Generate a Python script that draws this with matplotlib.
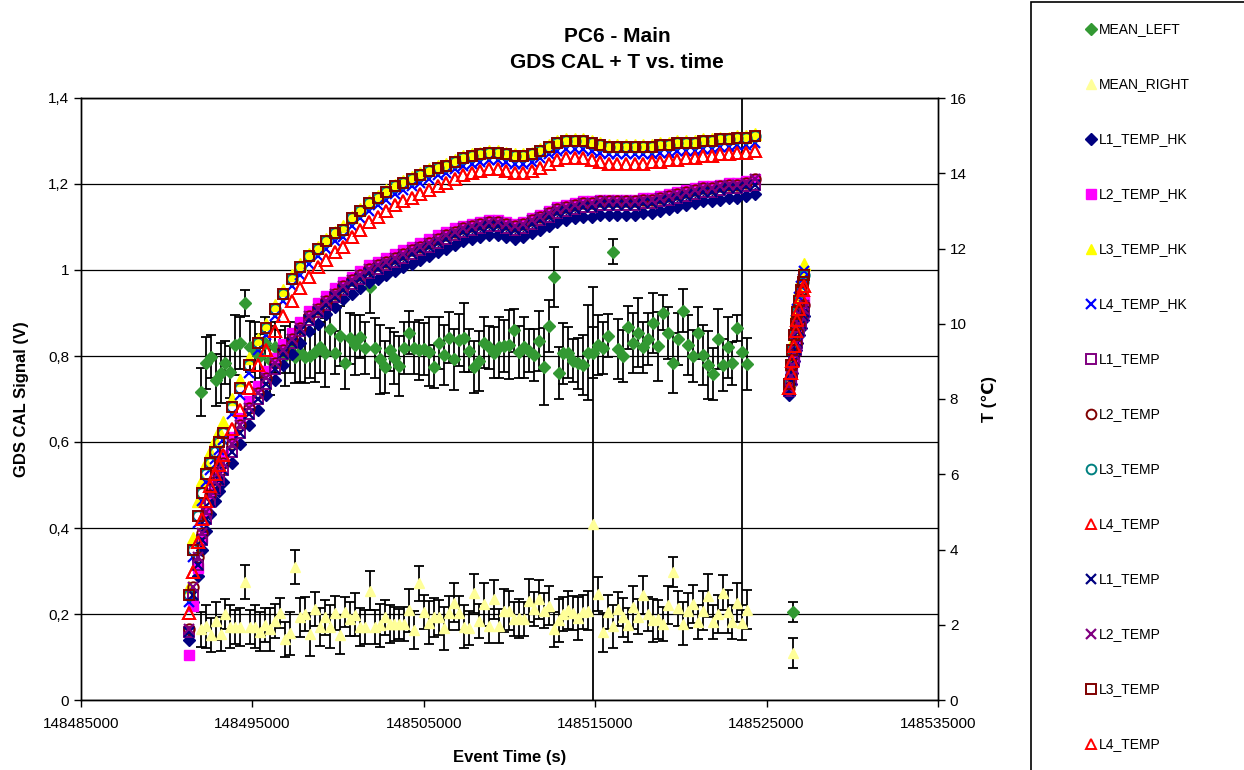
import matplotlib
matplotlib.use('Agg')
import matplotlib.pyplot as plt
from matplotlib.lines import Line2D
from matplotlib.patches import Rectangle
from matplotlib.ticker import FuncFormatter, MultipleLocator

plt.rcParams['font.family'] = ['Liberation Sans', 'DejaVu Sans']

# event times (s) of the GDS CAL means, plus the single point after the restart
t_mean = list(range(148491980, 148523881, 290)) + [148526540]

mean_left = [0.716, 0.784, 0.798, 0.744, 0.760, 0.784, 0.763, 0.826, 0.830, 0.923,
             0.822, 0.81, 0.80, 0.83, 0.79, 0.82, 0.81, 0.80, 0.82, 0.798,
             0.81, 0.797, 0.80, 0.81, 0.82, 0.808, 0.863, 0.808, 0.847, 0.784,
             0.841, 0.826, 0.845, 0.818, 0.961, 0.818, 0.792, 0.774, 0.814, 0.795,
             0.777, 0.818, 0.854, 0.818, 0.814, 0.816, 0.81, 0.775, 0.83, 0.802,
             0.843, 0.792, 0.837, 0.843, 0.812, 0.774, 0.788, 0.831, 0.820, 0.808,
             0.82, 0.823, 0.826, 0.860, 0.81, 0.820, 0.812, 0.802, 0.835, 0.775,
             0.870, 0.983, 0.761, 0.806, 0.808, 0.789, 0.783, 0.779, 0.808, 0.808,
             0.826, 0.818, 0.847, 1.043, 0.816, 0.80, 0.867, 0.830, 0.854, 0.82,
             0.839, 0.877, 0.823, 0.901, 0.854, 0.783, 0.839, 0.905, 0.826, 0.80,
             0.853, 0.802, 0.779, 0.758, 0.839, 0.779, 0.820, 0.783, 0.866, 0.81,
             0.781,
             0.205]
err_left = [0.055, 0.06, 0.05, 0.06, 0.07, 0.05, 0.06, 0.07, 0.06, 0.03,
            0.06, 0.07, 0.05, 0.06, 0.08, 0.06, 0.05, 0.07, 0.06, 0.06,
            0.07, 0.06, 0.05, 0.07, 0.06, 0.08, 0.06, 0.05, 0.07, 0.06,
            0.06, 0.07, 0.05, 0.06, 0.06, 0.07, 0.08, 0.06, 0.05, 0.06,
            0.07, 0.06, 0.05, 0.06, 0.07, 0.06, 0.08, 0.05, 0.06, 0.07,
            0.06, 0.07, 0.06, 0.08, 0.05, 0.06, 0.07, 0.06, 0.05, 0.06,
            0.07, 0.06, 0.08, 0.05, 0.06, 0.07, 0.05, 0.06, 0.07, 0.09,
            0.06, 0.07, 0.06, 0.07, 0.06, 0.05, 0.06, 0.07, 0.11, 0.06,
            0.07, 0.06, 0.05, 0.03, 0.07, 0.06, 0.05, 0.07, 0.08, 0.06,
            0.06, 0.07, 0.08, 0.04, 0.06, 0.07, 0.06, 0.05, 0.07, 0.06,
            0.06, 0.07, 0.08, 0.06, 0.07, 0.06, 0.07, 0.05, 0.03, 0.60,
            0.06,
            0.023]

mean_right = [0.164, 0.172, 0.151, 0.184, 0.153, 0.200, 0.170, 0.170, 0.170, 0.275,
              0.170, 0.170, 0.159, 0.174, 0.164, 0.184, 0.203, 0.141, 0.155, 0.309,
              0.192, 0.200, 0.153, 0.211, 0.170, 0.192, 0.170, 0.203, 0.151, 0.205,
              0.188, 0.198, 0.170, 0.170, 0.254, 0.170, 0.174, 0.192, 0.177, 0.177,
              0.177, 0.177, 0.209, 0.163, 0.271, 0.205, 0.180, 0.192, 0.192, 0.167,
              0.203, 0.226, 0.203, 0.170, 0.167, 0.248, 0.184, 0.223, 0.172, 0.234,
              0.172, 0.208, 0.208, 0.188, 0.190, 0.188, 0.231, 0.211, 0.234, 0.208,
              0.219, 0.164, 0.186, 0.20, 0.209, 0.203, 0.19, 0.205, 0.208, 0.41,
              0.247, 0.157, 0.205, 0.172, 0.211, 0.192, 0.174, 0.216, 0.194, 0.244,
              0.200, 0.186, 0.188, 0.177, 0.221, 0.298, 0.213, 0.177, 0.208, 0.223,
              0.182, 0.208, 0.242, 0.182, 0.200, 0.250, 0.205, 0.182, 0.226, 0.180,
              0.21,
              0.109]
err_right = [0.04, 0.05, 0.04, 0.045, 0.04, 0.035, 0.05, 0.04, 0.045, 0.04,
             0.04, 0.05, 0.045, 0.04, 0.05, 0.04, 0.035, 0.04, 0.05, 0.04,
             0.045, 0.04, 0.05, 0.04, 0.045, 0.04, 0.05, 0.04, 0.045, 0.035,
             0.04, 0.05, 0.045, 0.04, 0.045, 0.04, 0.05, 0.04, 0.045, 0.04,
             0.035, 0.04, 0.05, 0.045, 0.04, 0.04, 0.05, 0.045, 0.04, 0.05,
             0.04, 0.045, 0.04, 0.05, 0.04, 0.045, 0.04, 0.05, 0.04, 0.045,
             0.04, 0.05, 0.045, 0.04, 0.045, 0.04, 0.05, 0.04, 0.045, 0.04,
             0.045, 0.04, 0.05, 0.04, 0.045, 0.04, 0.05, 0.04, 0.045, 0.55,
             0.04, 0.045, 0.04, 0.05, 0.04, 0.045, 0.04, 0.05, 0.04, 0.045,
             0.04, 0.05, 0.045, 0.04, 0.045, 0.035, 0.04, 0.05, 0.04, 0.045,
             0.04, 0.045, 0.05, 0.04, 0.045, 0.04, 0.05, 0.04, 0.045, 0.04,
             0.045,
             0.035]

# temperature sample times (s): fast warm-up, main run, short run after the restart
t_temp = (list(range(148491300, 148493300, 250))
          + list(range(148493300, 148524301, 500))
          + list(range(148526300, 148527201, 100)))

l1_temp_hk = [1.6, 2.6, 3.3, 4.0, 4.5, 4.95, 5.3, 5.55,
              5.8, 6.3, 6.8, 7.3, 7.7, 8.1,
              8.5, 8.9, 9.2, 9.5, 9.8, 10.0, 10.25, 10.45, 10.65, 10.8,
              10.95, 11.1, 11.2, 11.3, 11.4, 11.5, 11.6, 11.7, 11.8, 11.9,
              12.0, 12.1, 12.2, 12.25, 12.3, 12.35, 12.35, 12.3, 12.25, 12.3,
              12.4, 12.5, 12.6, 12.7, 12.75, 12.8, 12.85, 12.85, 12.9, 12.9,
              12.9, 12.9, 12.9, 12.95, 12.95, 13.0, 13.05, 13.1, 13.15, 13.2,
              13.25, 13.25, 13.3, 13.35, 13.35, 13.4, 13.45,
              8.1, 8.4, 8.7, 9.0, 9.3, 9.5, 9.7, 9.9, 10.1, 10.2]
l2_temp_hk = [1.2, 2.5, 3.5, 4.3, 5.0, 5.5, 5.9, 6.2,
              6.5, 7.0, 7.5, 7.95, 8.35, 8.75,
              9.1, 9.45, 9.75, 10.05, 10.35, 10.55, 10.75, 10.95, 11.1, 11.25,
              11.4, 11.55, 11.65, 11.75, 11.85, 11.95, 12.05, 12.15, 12.25, 12.35,
              12.45, 12.55, 12.6, 12.65, 12.7, 12.75, 12.75, 12.7, 12.65, 12.7,
              12.8, 12.9, 13.0, 13.1, 13.15, 13.2, 13.25, 13.25, 13.3, 13.3,
              13.3, 13.3, 13.3, 13.35, 13.35, 13.4, 13.45, 13.5, 13.55, 13.6,
              13.65, 13.65, 13.7, 13.75, 13.75, 13.8, 13.85,
              8.3, 8.5, 8.8, 9.1, 9.4, 9.7, 10.0, 10.2, 10.4, 10.6]
l3_temp_hk = [3.0, 4.3, 5.3, 5.85, 6.3, 6.6, 6.9, 7.15,
              7.4, 8.0, 8.5, 9.1, 9.6, 10.0,
              10.5, 10.9, 11.3, 11.6, 11.85, 12.05, 12.25, 12.45, 12.6, 12.85,
              13.05, 13.25, 13.4, 13.55, 13.7, 13.8, 13.9, 14.0, 14.1, 14.2,
              14.25, 14.35, 14.45, 14.5, 14.55, 14.6, 14.6, 14.55, 14.5, 14.5,
              14.55, 14.65, 14.75, 14.85, 14.9, 14.9, 14.9, 14.85, 14.8, 14.75,
              14.75, 14.75, 14.75, 14.75, 14.75, 14.8, 14.8, 14.85, 14.85, 14.85,
              14.9, 14.9, 14.95, 14.95, 15.0, 15.0, 15.05,
              8.5, 9.0, 9.5, 9.9, 10.3, 10.6, 10.9, 11.2, 11.4, 11.6]
l4_temp_hk = [2.6, 3.8, 4.7, 5.3, 5.8, 6.1, 6.4, 6.65,
              6.9, 7.6, 8.1, 8.7, 9.3, 9.7,
              10.2, 10.6, 11.0, 11.3, 11.6, 11.8, 12.0, 12.2, 12.3, 12.6,
              12.8, 13.0, 13.15, 13.3, 13.45, 13.55, 13.65, 13.75, 13.85, 13.95,
              14.0, 14.1, 14.2, 14.25, 14.3, 14.35, 14.35, 14.3, 14.25, 14.25,
              14.3, 14.4, 14.5, 14.6, 14.65, 14.65, 14.65, 14.6, 14.55, 14.5,
              14.5, 14.5, 14.5, 14.5, 14.5, 14.55, 14.55, 14.6, 14.6, 14.6,
              14.65, 14.65, 14.7, 14.7, 14.75, 14.75, 14.8,
              8.3, 8.8, 9.3, 9.7, 10.1, 10.4, 10.7, 11.0, 11.2, 11.4]
l1_temp = [1.8, 2.8, 3.6, 4.25, 4.8, 5.25, 5.6, 5.85,
           6.1, 6.6, 7.1, 7.6, 8.0, 8.4,
           8.8, 9.2, 9.5, 9.8, 10.1, 10.3, 10.5, 10.7, 10.9, 11.05,
           11.2, 11.35, 11.45, 11.55, 11.65, 11.75, 11.85, 11.95, 12.05, 12.15,
           12.25, 12.35, 12.45, 12.5, 12.55, 12.6, 12.6, 12.55, 12.5, 12.55,
           12.65, 12.75, 12.85, 12.95, 13.0, 13.05, 13.1, 13.1, 13.15, 13.15,
           13.15, 13.15, 13.15, 13.2, 13.2, 13.25, 13.3, 13.35, 13.4, 13.45,
           13.5, 13.5, 13.55, 13.6, 13.6, 13.65, 13.7,
           8.2, 8.5, 8.7, 9.0, 9.3, 9.5, 9.8, 10.0, 10.2, 10.3]
l2_temp = [1.9, 3.0, 3.8, 4.45, 5.0, 5.45, 5.8, 6.05,
           6.3, 6.8, 7.3, 7.75, 8.15, 8.55,
           8.95, 9.3, 9.6, 9.9, 10.2, 10.4, 10.6, 10.8, 11.0, 11.15,
           11.3, 11.45, 11.55, 11.65, 11.75, 11.85, 11.95, 12.05, 12.15, 12.25,
           12.35, 12.45, 12.55, 12.6, 12.65, 12.7, 12.7, 12.65, 12.6, 12.65,
           12.75, 12.85, 12.95, 13.05, 13.1, 13.15, 13.2, 13.2, 13.25, 13.25,
           13.25, 13.25, 13.25, 13.3, 13.3, 13.35, 13.4, 13.45, 13.5, 13.55,
           13.6, 13.6, 13.65, 13.7, 13.7, 13.75, 13.85,
           8.3, 8.6, 8.9, 9.2, 9.5, 9.8, 10.0, 10.2, 10.4, 10.5]
l3_temp = [2.8, 4.0, 4.9, 5.5, 6.0, 6.3, 6.6, 6.85,
           7.1, 7.8, 8.3, 8.9, 9.5, 9.9,
           10.4, 10.8, 11.2, 11.5, 11.8, 12.0, 12.2, 12.4, 12.5, 12.8,
           13.0, 13.2, 13.35, 13.5, 13.65, 13.75, 13.85, 13.95, 14.05, 14.15,
           14.2, 14.3, 14.4, 14.45, 14.5, 14.55, 14.55, 14.5, 14.45, 14.45,
           14.5, 14.6, 14.7, 14.8, 14.85, 14.85, 14.85, 14.8, 14.75, 14.7,
           14.7, 14.7, 14.7, 14.7, 14.7, 14.75, 14.75, 14.8, 14.8, 14.8,
           14.85, 14.85, 14.9, 14.9, 14.95, 14.95, 15.0,
           8.4, 8.9, 9.3, 9.7, 10.0, 10.3, 10.6, 10.9, 11.1, 11.3]
l4_temp = [2.3, 3.4, 4.2, 4.8, 5.3, 5.7, 6.0, 6.25,
           6.5, 7.2, 7.7, 8.3, 8.9, 9.3,
           9.8, 10.2, 10.6, 10.95, 11.25, 11.5, 11.7, 11.9, 12.05, 12.3,
           12.5, 12.7, 12.85, 13.0, 13.15, 13.25, 13.35, 13.45, 13.55, 13.65,
           13.75, 13.85, 13.95, 14.0, 14.05, 14.1, 14.1, 14.05, 14.0, 14.0,
           14.05, 14.15, 14.25, 14.35, 14.4, 14.4, 14.4, 14.35, 14.3, 14.25,
           14.25, 14.25, 14.25, 14.25, 14.3, 14.3, 14.35, 14.35, 14.4, 14.4,
           14.45, 14.45, 14.5, 14.5, 14.55, 14.55, 14.6,
           8.3, 8.7, 9.0, 9.4, 9.8, 10.1, 10.4, 10.7, 10.9, 11.0]

x_ticks = list(range(148485000, 148535001, 10000))


def comma(v, pos):
    s = ('%.1f' % v).rstrip('0').rstrip('.')
    return s.replace('.', ',')


def marker_style(m, c, filled, size):
    if m == 'x':
        return dict(marker=m, ms=size, color=c, mew=1.6)
    if filled:
        return dict(marker=m, ms=size, color=c, mec=c)
    return dict(marker=m, ms=size, mfc='none', mec=c, mew=1.4)


def main():
    W, H = 1244, 770
    fig = plt.figure(figsize=(W / 100, H / 100), dpi=100)
    ax = fig.add_axes([81 / W, 70 / H, 857 / W, 602 / H])
    ax2 = ax.twinx()

    # (label, values, marker, colour, filled, size)
    temp_series = [
        ('L1_TEMP_HK', l1_temp_hk, 'D', '#000080', True, 6.5),
        ('L2_TEMP_HK', l2_temp_hk, 's', '#FF00FF', True, 7.5),
        ('L3_TEMP_HK', l3_temp_hk, '^', '#FFFF00', True, 9),
        ('L4_TEMP_HK', l4_temp_hk, 'x', '#0000FF', True, 7.5),
        ('L1_TEMP', l1_temp, 's', '#800080', False, 7.5),
        ('L2_TEMP', l2_temp, 'o', '#800000', False, 7.5),
        ('L3_TEMP', l3_temp, 'o', '#008080', False, 7.5),
        ('L4_TEMP', l4_temp, '^', '#FF0000', False, 8),
        ('L1_TEMP', l1_temp, 'x', '#000080', True, 7.5),
        ('L2_TEMP', l2_temp, 'x', '#800080', True, 7.5),
        ('L3_TEMP', l3_temp, 's', '#800000', False, 7.5),
        ('L4_TEMP', l4_temp, '^', '#FF0000', False, 8),
    ]

    ax.errorbar(t_mean, mean_left, yerr=err_left, fmt='D', ms=6.5, color='#339933',
                mec='#339933', ecolor='black', elinewidth=1.3, capsize=3.5, capthick=1.3)
    ax.errorbar(t_mean, mean_right, yerr=err_right, fmt='^', ms=7.5, color='#FFFF99',
                mec='#FFFF99', ecolor='black', elinewidth=1.3, capsize=3.5, capthick=1.3)

    for label, vals, m, c, filled, size in temp_series:
        ax2.plot(t_temp, vals, ls='none', **marker_style(m, c, filled, size))

    ax.set_xlim(148485000, 148535000)
    ax.set_ylim(0, 1.4)
    ax2.set_ylim(0, 16)
    ax.set_xticks(x_ticks)
    ax.set_xticklabels([str(t) for t in x_ticks])
    ax.yaxis.set_major_locator(MultipleLocator(0.2))
    ax.yaxis.set_major_formatter(FuncFormatter(comma))
    ax2.yaxis.set_major_locator(MultipleLocator(2))
    ax.grid(axis='y', color='black', lw=0.9)
    ax.set_axisbelow(True)

    for a in (ax, ax2):
        a.tick_params(labelsize=11, length=5, width=1, color='black', direction='out')
        for sp in a.spines.values():
            sp.set_color('black')
            sp.set_linewidth(1)
    ax.tick_params(axis='x', pad=7)

    ax.set_xlabel('Event Time (s)', fontsize=12, fontweight='bold', labelpad=14)
    ax.set_ylabel('GDS CAL Signal (V)', fontsize=12, fontweight='bold', labelpad=14)
    ax2.set_ylabel('T (℃)', fontsize=12, fontweight='bold', labelpad=11)

    fig.text(617 / W, 1 - 37 / H, 'PC6 - Main', ha='center', va='center',
             fontsize=15, fontweight='bold')
    fig.text(617 / W, 1 - 62 / H, 'GDS CAL + T vs. time', ha='center', va='center',
             fontsize=15, fontweight='bold')

    # legend box on the right
    fig.add_artist(Rectangle((1031 / W, -0.01), 0.2, 1 - 1.5 / H + 0.01, transform=fig.transFigure,
                             fill=False, edgecolor='black', lw=1.2))
    entries = [('MEAN_LEFT', 'D', '#339933', True, 6),
               ('MEAN_RIGHT', '^', '#FFFF99', True, 7)]
    entries += [(lab, m, c, f, min(s, 7)) for lab, _, m, c, f, s in temp_series]
    for i, (lab, m, c, filled, size) in enumerate(entries):
        y = 1 - (29 + 55 * i) / H
        fig.add_artist(Line2D([1091 / W], [y], ls='none', transform=fig.transFigure,
                              **marker_style(m, c, filled, size)))
        fig.text(1099 / W, y, lab, ha='left', va='center', fontsize=10)

    fig.savefig('out.png', dpi=100)


main()
